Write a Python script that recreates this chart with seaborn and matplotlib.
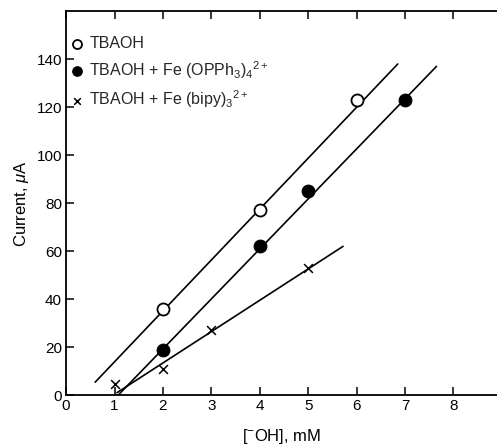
import numpy as np
import pandas as pd
import seaborn as sns
import matplotlib.pyplot as plt

conc_open = [2, 4, 6]
curr_open = [36, 77, 123]
conc_fill = [2, 4, 5, 7]
curr_fill = [19, 62, 85, 123]
conc_bipy = [1, 2, 3, 5]
curr_bipy = [4.5, 11, 27, 53]

# Drawn least-squares lines (end points as read)
fit_open_x = [0.6, 6.85]
fit_open_y = [5.4, 138]
fit_fill_x = [1.1, 7.65]
fit_fill_y = [0.5, 137]
fit_bipy_x = [1.05, 5.72]
fit_bipy_y = [1.0, 62]

labels = ["TBAOH",
          r"TBAOH + Fe (OPPh$_3$)$_4$$^{2+}$",
          r"TBAOH + Fe (bipy)$_3$$^{2+}$"]
xticks = [0, 1, 2, 3, 4, 5, 6, 7, 8]
yticks = [0, 20, 40, 60, 80, 100, 120, 140]

sns.set_theme(style="ticks")
plt.rcParams['font.family'] = ['Liberation Sans', 'DejaVu Sans']
plt.rcParams['mathtext.fontset'] = 'custom'
plt.rcParams['mathtext.rm'] = 'Liberation Sans'
plt.rcParams['mathtext.it'] = 'Liberation Sans:italic'

fig = plt.figure(figsize=(4.97, 4.48), dpi=100)
ax = fig.add_axes([0.133, 0.118, 0.867, 0.857])

for fx, fy in [(fit_open_x, fit_open_y), (fit_fill_x, fit_fill_y), (fit_bipy_x, fit_bipy_y)]:
    sns.lineplot(x=fx, y=fy, ax=ax, color="black", linewidth=1.2)

sns.scatterplot(x=conc_open, y=curr_open, ax=ax, marker="o", s=75,
                facecolor="white", edgecolor="black", linewidth=1.3, zorder=3, label=labels[0])
sns.scatterplot(x=conc_fill, y=curr_fill, ax=ax, marker="o", s=85,
                color="black", edgecolor="black", zorder=3, label=labels[1])
sns.scatterplot(x=conc_bipy, y=curr_bipy, ax=ax, marker="x", s=40,
                color="black", linewidth=1.1, zorder=3, label=labels[2])

ax.set_xlim(0, 8.9)
ax.set_ylim(0, 160)
ax.set_xticks(xticks)
ax.set_yticks(yticks)
ax.tick_params(direction="in", length=6, width=1.1, labelsize=11, colors="black", pad=3)
ax.tick_params(axis="x", top=True, labeltop=False)
for side in ["left", "bottom", "top"]:
    ax.spines[side].set_color("black")
    ax.spines[side].set_linewidth(1.3)
ax.spines["right"].set_visible(False)

ax.set_xlabel(r"[$^{-}$OH], mM", fontsize=12, color="black", labelpad=10)
ax.set_ylabel(r"Current, $\mu$A", fontsize=12, color="black", labelpad=4)

leg = ax.legend(loc="upper left", frameon=False, fontsize=11.5, handletextpad=0.3,
                borderaxespad=0.3, labelspacing=0.5, handlelength=1.0, markerscale=0.75,
                bbox_to_anchor=(-0.02, 0.965))

plt.savefig("out.png", dpi=100)
